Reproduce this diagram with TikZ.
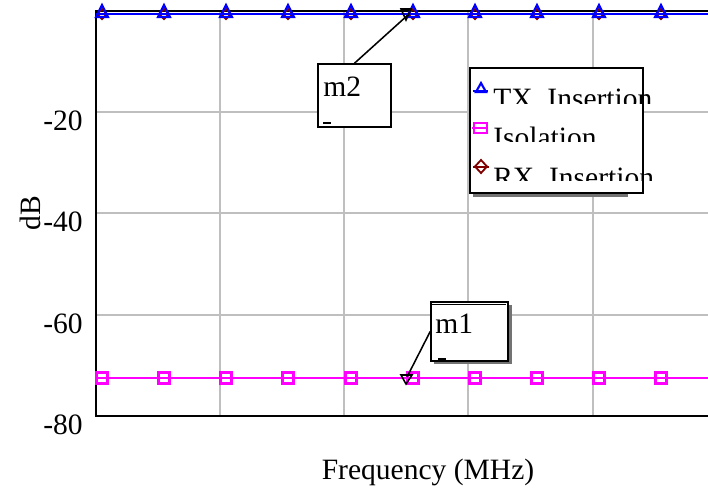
\documentclass[tikz,border=0pt]{standalone}
\usepackage{fontspec}
\setmainfont{Liberation Serif}

\definecolor{darkred}{RGB}{128,0,0}
\definecolor{isomag}{RGB}{255,0,255}
\definecolor{txblue}{RGB}{0,0,255}
\tikzset{
	gridline/.style={line width=1.1pt, black!25},
	axisline/.style={line width=1.5pt, black},
	txmark/.style={draw=txblue, line width=1.5pt},
	isomark/.style={draw=isomag, line width=1.5pt},
	rxmark/.style={draw=darkred, line width=1.3pt},
	mkbox/.style={draw, line width=1.1pt, fill=white, inner sep=0pt},
	lbl/.style={font=\fontsize{21}{25}\selectfont, inner sep=0pt},
}

\begin{document}
\begin{tikzpicture}[x=0.025cm, y=-0.025cm]
		
		\useasboundingbox (0,0) rectangle (708,494);
		
		% grid
		\foreach \gx in {220,344,468,593} \draw[gridline] (\gx,11) -- (\gx,416);
		\foreach \gy in {112,213,315} \draw[gridline] (96,\gy) -- (708,\gy);
		
		% axes
		\draw[axisline] (708,11) -- (96,11) -- (96,416) -- (708,416);
		
		% RX insertion, lies under the TX trace
		\draw[darkred, line width=1.1pt] (96,14.5) -- (708,14.5);
		\foreach \mx in {102,164,226,288,351,413,475,537,599,661}
			\draw[rxmark] (\mx,9) -- (\mx+5,14) -- (\mx,19) -- (\mx-5,14) -- cycle;
		
		% TX insertion
		\draw[txblue, line width=1.8pt] (96,14) -- (708,14);
		\foreach \mx in {102,164,226,288,351,413,475,537,599,661}
			\draw[txmark] (\mx,5) -- (\mx+6,17) -- (\mx-6,17) -- cycle;
		
		% Isolation
		\draw[isomag, line width=1.4pt] (96,378) -- (708,378);
		\foreach \mx in {102,164,226,288,351,413,475,537,599,661}
			\draw[isomark] (\mx-5.5,372.5) rectangle (\mx+5.5,383.5);
		
		% marker m2
		\coordinate (m2tip) at (409,14);
		\draw[line width=1.1pt] (401,9) -- (411,9) -- (406,20) -- cycle;
		\node[mkbox, minimum width=1.825cm, minimum height=1.575cm] (m2box) at (354.5,95.5) {};
		\node[lbl, anchor=base west] (m2txt) at (323,96) {m2};
		\draw[line width=1.5pt] (323,123) -- (331,123);
		\draw[line width=1.1pt] (m2box.north) -- (m2tip);
		
		% marker m1
		\coordinate (m1tip) at (407,377);
		\draw[line width=1.1pt] (401,375) -- (412,375) -- (406,384) -- cycle;
		\fill[black!55] (434,305) rectangle (512,364);
		\node[mkbox, minimum width=1.925cm, minimum height=1.475cm] (m1box) at (469.5,331.5) {};
		\draw[line width=0.8pt] (432,304.5) -- (506,304.5);
		\node[lbl, anchor=base west] (m1txt) at (435,333) {m1};
		\draw[line width=1.5pt] (438,359) -- (446,359);
		\draw[line width=1.1pt] (m1box.west) -- (m1tip);
		
		% legend
		\fill[black!55] (473,193) rectangle (628,197);
		\node[mkbox, minimum width=4.325cm, minimum height=3.125cm] (legbox) at (556.5,130.5) {};
		
		\draw[txblue, line width=1.3pt] (473,91) -- (488,91);
		\draw[txmark] (481,83) -- (486,92) -- (476,92) -- cycle;
		\begin{scope}
			\clip (490,80) rectangle (670,103);
			\node[lbl, anchor=base west] (txleg) at (493,108.5) {TX\_Insertion};
		\end{scope}
		
		\draw[isomag, line width=1.3pt] (472,128) -- (488,128);
		\draw[isomark] (474,123) rectangle (487,133);
		\begin{scope}
			\clip (490,120) rectangle (670,141);
			\node[lbl, anchor=base west] (isoleg) at (493,147.5) {Isolation};
		\end{scope}
		
		\draw[darkred, line width=1.3pt] (473,167) -- (489,167);
		\draw[rxmark] (481,160) -- (487,166.5) -- (481,173) -- (475,166.5) -- cycle;
		\begin{scope}
			\clip (490,160) rectangle (670,180);
			\node[lbl, anchor=base west] (rxleg) at (493,187.5) {RX\_Insertion};
		\end{scope}
		
		% axis labels
		\node[lbl, anchor=base east] (ym20) at (83,130) {-20};
		\node[lbl, anchor=base east] (ym40) at (83,231) {-40};
		\node[lbl, anchor=base east] (ym60) at (83,333) {-60};
		\node[lbl, anchor=base east] (ym80) at (83,434) {-80};
		\node[lbl, rotate=90] (ylab) at (30,213) {dB};
		\node[lbl] (xlab) at (428,472) {Frequency (MHz)};
		
\end{tikzpicture}
\end{document}
